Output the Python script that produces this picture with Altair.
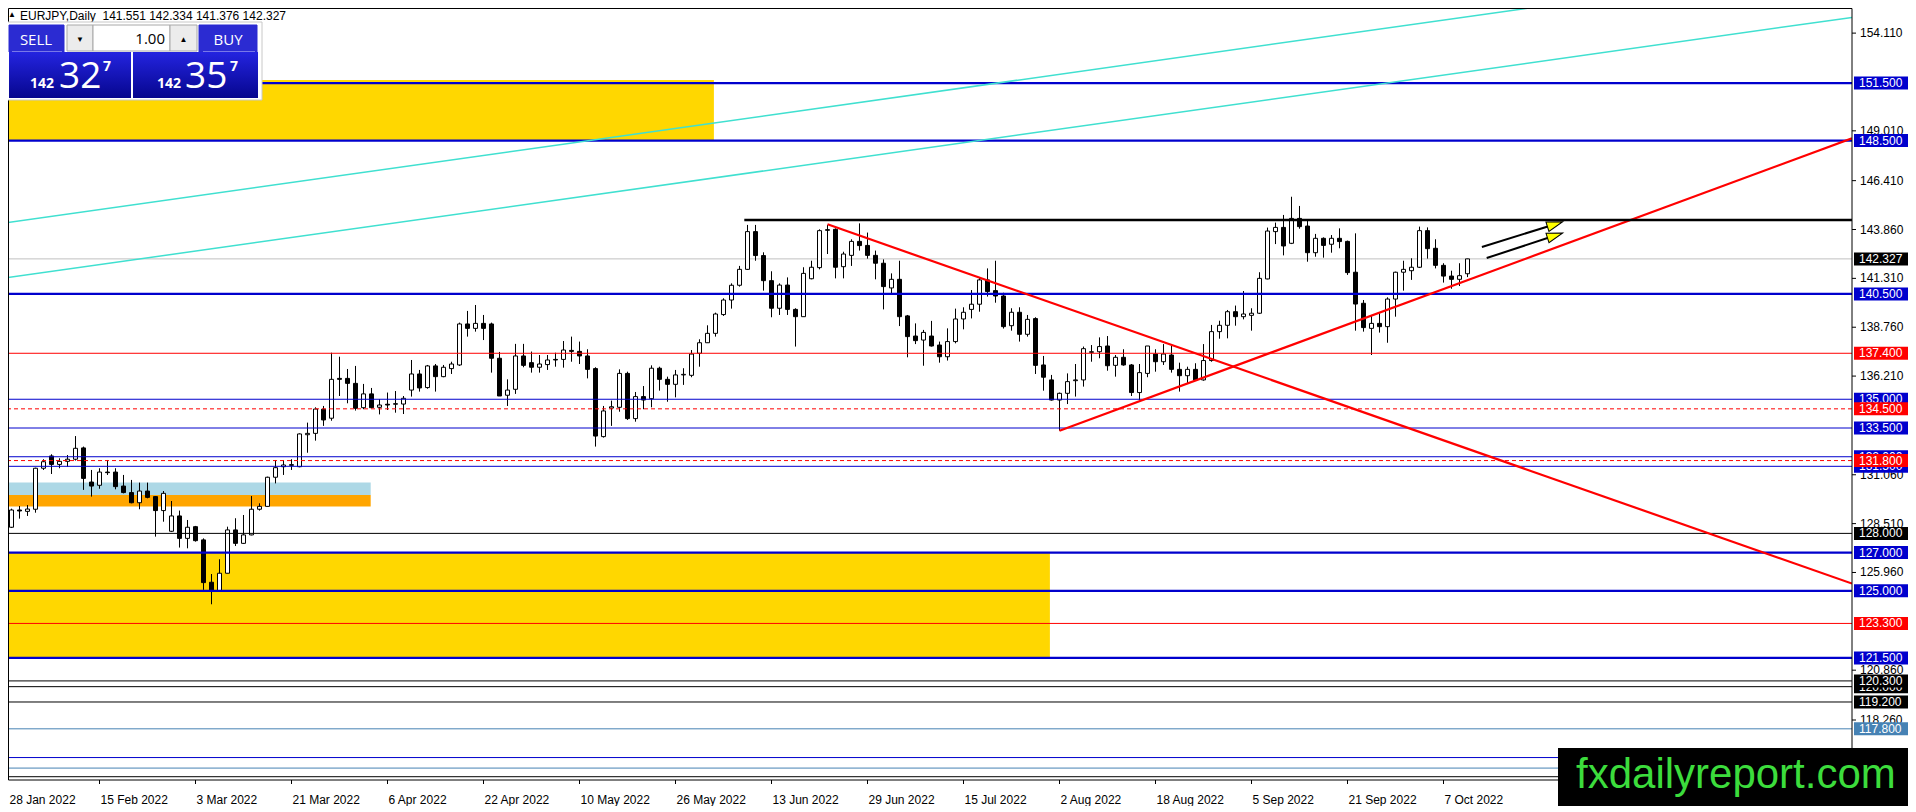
import math
import altair as alt
import pandas as pd

# ---------------- data ----------------
opens = [128.49,128.32,129.22,129.15,129.26,131.40,132.04,131.60,131.76,131.87,
132.46,130.68,130.51,131.20,131.20,130.47,130.13,129.60,130.21,129.92,
129.19,128.11,128.91,127.74,128.35,127.66,125.45,125.01,125.92,128.18,
127.48,127.92,129.26,129.41,130.93,131.48,131.55,131.48,133.15,133.22,
134.48,134.01,136.09,136.09,135.83,134.56,135.28,134.58,134.74,134.74,
134.75,135.48,136.32,135.61,136.74,136.18,136.60,136.79,138.93,138.70,
138.96,138.93,137.14,135.21,135.52,137.26,136.91,136.67,136.81,137.08,
137.08,137.55,137.50,137.26,136.60,133.05,134.54,134.58,136.35,133.99,
135.14,135.03,136.62,136.04,135.78,136.27,136.25,137.40,137.95,138.44,
139.42,140.18,140.95,141.78,143.75,142.50,141.19,139.75,140.96,139.69,
139.31,141.29,141.87,143.85,143.87,141.92,142.51,143.24,143.03,142.51,
142.10,140.81,141.26,139.35,138.30,138.09,138.30,137.83,137.22,138.01,
139.19,139.69,139.96,141.23,140.67,140.39,138.84,139.54,138.39,139.21,
136.79,136.01,134.96,135.31,135.97,136.01,137.45,137.48,137.78,136.77,
137.19,136.79,135.35,136.35,137.36,136.96,137.31,136.56,136.23,136.56,
136.01,137.02,138.53,138.86,139.57,139.31,139.38,139.49,141.28,143.75,
143.97,143.14,144.44,144.04,142.65,143.40,143.09,143.40,143.24,141.63,
140.01,138.70,138.96,138.79,140.23,141.63,141.71,141.89,143.80,142.88,
141.99,141.43,141.26,141.551]

highs = [128.70,129.29,129.43,129.48,131.43,131.87,132.13,131.92,132.09,133.08,
132.53,131.31,131.40,131.83,131.40,131.05,130.79,130.65,130.65,129.95,
130.21,129.69,129.19,128.70,128.39,127.74,125.88,126.65,128.35,128.79,
128.96,129.95,129.57,130.96,131.83,131.83,131.87,133.22,133.78,134.58,
134.65,137.43,137.22,136.58,136.74,135.80,135.59,135.00,135.35,135.43,
135.17,137.05,136.53,136.79,136.84,136.79,136.96,139.00,139.61,139.92,
139.40,139.00,137.47,136.04,137.89,137.89,137.49,137.31,137.31,137.43,
138.04,138.27,138.01,137.61,136.67,134.65,134.93,136.56,136.44,135.38,
135.69,136.77,136.70,136.18,136.53,136.62,137.57,138.13,138.86,139.52,
140.27,141.05,141.96,144.10,144.10,142.67,141.68,141.05,141.36,139.75,
141.89,142.23,143.87,144.10,143.92,142.70,143.35,144.18,143.70,142.76,
142.30,141.57,142.23,139.40,138.96,138.62,139.09,138.01,138.70,139.73,
139.80,140.70,141.36,141.83,142.23,140.56,139.75,139.80,139.40,139.28,
137.26,136.27,135.35,136.35,136.84,137.75,137.83,138.23,138.30,137.31,
137.61,136.84,136.84,137.78,137.61,137.88,137.78,136.91,136.70,136.88,
137.88,138.88,139.10,139.66,139.89,140.65,139.75,141.63,143.96,144.22,
144.62,145.57,145.09,144.32,143.63,143.45,143.57,143.92,143.28,143.66,
140.18,139.40,139.49,140.32,141.66,142.23,142.36,144.01,143.97,143.35,
142.10,141.71,142.10,142.334]

lows = [128.18,128.28,128.77,128.91,129.08,131.31,131.10,131.40,131.48,131.80,
130.27,129.92,130.33,131.05,130.30,130.09,129.57,129.26,129.83,127.83,
128.61,128.07,127.26,127.22,127.57,125.05,124.30,125.01,125.92,127.34,
127.45,127.90,129.19,129.40,130.61,131.05,131.31,131.45,132.21,132.84,
133.61,133.88,135.17,134.79,134.41,134.48,134.53,134.21,134.44,134.30,
134.23,135.14,135.40,135.55,135.40,136.15,136.32,136.74,138.27,138.53,
138.09,136.39,135.17,134.65,135.28,136.67,136.39,136.39,136.53,136.70,
136.65,136.96,136.84,136.09,132.53,133.00,133.61,134.35,133.92,133.83,
134.48,134.58,135.45,134.87,135.10,135.75,136.15,136.70,137.95,138.27,
139.35,139.73,140.88,141.75,142.23,140.67,139.28,139.40,139.40,137.75,
139.31,141.26,141.78,142.58,141.31,141.31,141.96,142.76,142.34,141.26,
139.69,140.49,138.82,137.19,137.88,136.75,137.75,136.91,137.02,137.92,
138.65,139.22,139.57,140.36,140.04,138.69,138.58,138.01,138.27,136.32,
135.45,134.93,133.36,134.75,135.14,135.66,136.96,137.14,136.49,136.18,
136.75,135.17,134.96,136.15,136.44,136.79,136.39,135.40,135.83,135.97,
135.97,136.96,138.16,138.18,138.84,139.17,138.58,139.45,141.26,143.10,
142.51,143.10,143.90,142.18,142.44,142.39,142.65,142.88,141.49,138.58,
138.53,137.31,138.48,137.95,139.31,140.67,141.23,141.85,142.34,141.83,
141.09,140.77,140.91,141.376]

closes = [128.26,129.22,129.17,129.27,131.40,131.74,131.60,131.76,131.87,132.44,
130.87,130.47,131.20,131.17,130.44,130.13,129.60,130.21,129.88,129.19,
130.09,128.91,127.74,128.32,127.62,125.43,125.01,125.92,128.18,127.48,
127.92,129.26,129.41,130.93,131.43,131.57,131.59,133.19,133.22,134.49,
133.92,136.04,136.04,135.83,134.53,135.28,134.56,134.70,134.70,134.77,
135.05,136.32,135.59,136.74,136.18,136.67,136.84,138.93,138.70,138.96,
138.70,137.14,135.17,135.48,137.26,136.77,136.67,136.84,137.05,137.05,
137.57,137.50,137.26,136.56,133.08,134.39,134.61,136.35,133.99,135.14,
134.96,136.62,136.04,135.78,136.27,136.30,137.36,137.95,138.44,139.45,
140.18,140.95,141.78,143.75,142.50,141.19,139.75,140.96,139.69,139.31,
141.57,141.89,143.80,143.82,141.89,142.58,143.24,143.02,142.51,142.10,
140.88,141.26,139.31,138.27,138.06,138.49,137.78,137.22,138.01,139.19,
139.54,139.96,141.23,140.62,140.39,138.79,139.54,138.39,139.17,136.77,
136.15,134.96,135.31,135.92,136.01,137.64,137.48,137.75,136.75,137.19,
136.79,135.35,136.39,137.78,136.96,137.36,136.56,136.23,136.56,136.01,
137.02,138.53,138.86,139.57,139.31,139.45,139.49,141.31,143.78,143.97,
143.00,144.44,144.01,142.65,143.40,143.03,143.40,143.23,141.61,139.97,
138.74,138.96,138.79,140.23,141.63,141.78,141.89,143.80,142.86,141.99,
141.43,141.26,141.45,142.327]

date_labels = ["28 Jan 2022", "15 Feb 2022", "3 Mar 2022", "21 Mar 2022", "6 Apr 2022",
               "22 Apr 2022", "10 May 2022", "26 May 2022", "13 Jun 2022", "29 Jun 2022",
               "15 Jul 2022", "2 Aug 2022", "18 Aug 2022", "5 Sep 2022", "21 Sep 2022",
               "7 Oct 2022"]
date_label_bars = [0, 12, 24, 36, 48, 60, 72, 84, 96, 108, 120, 132, 144, 156, 168, 180]

BLUE, RED, BLACK, STEEL = "#0000CD", "#FF0000", "#000000", "#4682B4"
level_prices = [151.5, 148.5, 140.5, 137.4, 135.0, 134.5, 133.5, 132.0, 131.8, 131.5,
                128.0, 127.0, 125.0, 123.3, 121.5, 120.3, 120.0, 119.2, 117.8, 116.3,
                115.75, 115.3]
level_colors = [BLUE, BLUE, BLUE, RED, BLUE, RED, BLUE, BLUE, RED, BLUE,
                BLACK, BLUE, BLUE, RED, BLUE, BLACK, BLACK, BLACK, STEEL, BLUE,
                STEEL, BLACK]
level_widths = [2.2, 2.2, 2.2, 1, 1, 1, 1, 1, 1, 1,
                1, 2.2, 2.2, 1, 2.2, 1, 1, 1, 1, 1,
                1, 1]
level_dashed = [False, False, False, False, False, True, False, False, True, False,
                False, False, False, False, False, False, False, False, False, False,
                False, False]

bid_price = 142.327
header_text = "EURJPY,Daily\u00a0 141.551 142.334 141.376 142.327"

tag_prices = [151.5, 148.5, 142.327, 140.5, 137.4, 135.0, 133.5, 132.0, 131.5, 134.5,
              131.8, 128.0, 127.0, 125.0, 123.3, 121.5, 120.0, 120.3, 119.2, 117.8]
tag_colors = [BLUE, BLUE, BLACK, BLUE, RED, BLUE, BLUE, BLUE, BLUE, RED,
              RED, BLACK, BLUE, BLUE, RED, BLUE, BLACK, BLACK, BLACK, STEEL]

# price-scale labels that are not hidden behind a price tag
tick_prices = [154.11, 149.01, 146.41, 143.86, 141.31, 138.76, 136.21,
               131.06, 128.51, 125.96, 120.86, 118.26]

zone_x1 = [-1.0, -1.0, -1.0, -1.0]
zone_x2 = [88.8, 130.8, 45.9, 45.9]
zone_p1 = [148.5, 121.5, 130.0, 129.4]
zone_p2 = [151.66, 127.0, 130.65, 130.0]
zone_colors = ["#FFD700", "#FFD700", "#ADD8E6", "#FFA500"]

trend_x1 = [-0.19, -0.19, 103.0, 132.0, 92.6]
trend_p1 = [144.18, 141.31, 144.13, 133.36, 144.36]
trend_x2 = [196.0, 231.06, 231.06, 231.06, 231.06]
trend_p2 = [155.73, 154.93, 125.38, 148.62, 144.36]
trend_colors = ["#40E0D0", "#40E0D0", "#FF0000", "#FF0000", "#000000"]
trend_widths = [1.5, 1.5, 2.2, 2.2, 2.5]

arrow_x1 = [184.8, 185.4]
arrow_p1 = [142.95, 142.37]
arrow_x2 = [194.9, 194.9]
arrow_p2 = [144.26, 143.68]

assert len(opens) == len(highs) == len(lows) == len(closes) == 184

# ---------------- layout ----------------
W, H = 1850, 778
XMIN, XMAX = -0.1875, 231.0625
YMIN, YMAX = 115.1285, 155.734
OX, OY = 2, 2                      # screen position of the plot's top-left corner
VIS = 6.5                          # first plot pixel that the page shows (8px margin)
PXX = W / (XMAX - XMIN)
PXY = H / (YMAX - YMIN)
FONT = "Liberation Sans"

xs = alt.Scale(domain=[XMIN, XMAX], nice=False, zero=False)
ys = alt.Scale(domain=[YMIN, YMAX], nice=False, zero=False)


def X(f):
    return alt.X(f"{f}:Q", scale=xs, axis=None)


def Y(f):
    return alt.Y(f"{f}:Q", scale=ys, axis=None)


def PX(f):
    return alt.X(f"{f}:Q", scale=None, axis=None)


def PY(f):
    return alt.Y(f"{f}:Q", scale=None, axis=None)


layers = []

# zones (background rectangles)
zones = pd.DataFrame({"x1": zone_x1, "x2": zone_x2, "p1": zone_p1, "p2": zone_p2, "col": zone_colors})
layers.append(alt.Chart(zones).mark_rect(clip=True).encode(
    x=X("x1"), x2="x2", y=Y("p1"), y2="p2", fill=alt.Fill("col:N", scale=None)))

# bid line
layers.append(alt.Chart(pd.DataFrame({"p": [bid_price]})).mark_rule(
    color="#C0C0C0", strokeWidth=1, clip=True).encode(y=Y("p")))

# candles
cd = pd.DataFrame({"k": list(range(len(opens))), "o": opens, "h": highs, "l": lows, "c": closes})
cd["fillc"] = ["black" if c < o else "white" for o, c in zip(cd.o, cd.c)]
cd["x1"] = cd.k - 0.25
cd["x2"] = cd.k + 0.25
layers.append(alt.Chart(cd).mark_rule(color="black", strokeWidth=1, clip=True).encode(
    x=X("k"), y=Y("l"), y2="h"))
layers.append(alt.Chart(cd).mark_rect(stroke="black", strokeWidth=1, clip=True).encode(
    x=X("x1"), x2="x2", y=Y("o"), y2="c", fill=alt.Fill("fillc:N", scale=None)))

# horizontal levels
lv = pd.DataFrame({"p": level_prices, "col": level_colors, "w": level_widths, "dash": level_dashed})
layers.append(alt.Chart(lv[~lv.dash]).mark_rule(clip=True).encode(
    y=Y("p"), color=alt.Color("col:N", scale=None), strokeWidth=alt.StrokeWidth("w:Q", scale=None)))
layers.append(alt.Chart(lv[lv.dash]).mark_rule(clip=True, strokeDash=[4, 3]).encode(
    y=Y("p"), color=alt.Color("col:N", scale=None), strokeWidth=alt.StrokeWidth("w:Q", scale=None)))

# trend lines
tr = pd.DataFrame({"x1": trend_x1, "p1": trend_p1, "x2": trend_x2, "p2": trend_p2,
                   "col": trend_colors, "w": trend_widths})
layers.append(alt.Chart(tr).mark_rule(clip=True).encode(
    x=X("x1"), x2="x2", y=Y("p1"), y2="p2",
    color=alt.Color("col:N", scale=None), strokeWidth=alt.StrokeWidth("w:Q", scale=None)))

# arrows
ar = pd.DataFrame({"x1": arrow_x1, "p1": arrow_p1, "x2": arrow_x2, "p2": arrow_p2})
dxp = (ar.x2 - ar.x1) * PXX
dyp = (ar.p2 - ar.p1) * PXY
lenp = (dxp ** 2 + dyp ** 2) ** 0.5
frac = 1 - 8.0 / lenp
ar["hx"] = ar.x1 + frac * (ar.x2 - ar.x1)
ar["hp"] = ar.p1 + frac * (ar.p2 - ar.p1)
ang = (360 - math.degrees(math.atan2(float(dyp.mean()), float(dxp.mean())))) % 360
layers.append(alt.Chart(ar).mark_rule(color="black", strokeWidth=2, clip=True).encode(
    x=X("x1"), x2="hx", y=Y("p1"), y2="hp"))
layers.append(alt.Chart(ar).mark_point(
    shape="M1,0L-1,-0.62L-1,0.62Z", filled=True, fill="#FFFF00", stroke="black",
    strokeWidth=1, size=256, angle=ang, opacity=1).encode(x=X("hx"), y=Y("hp")))

# frame, drawn along the first visible pixels
layers.append(alt.Chart(pd.DataFrame({"a": [0]})).mark_rect(
    fill=None, stroke="black", strokeWidth=1).encode(
    x=alt.value(VIS), x2=alt.value(W), y=alt.value(VIS), y2=alt.value(H)))

# price scale ticks and labels
tk = pd.DataFrame({"p": tick_prices})
tk["txt"] = tk.p.map(lambda v: f"{v:.3f}")
layers.append(alt.Chart(tk).mark_rule(color="black", strokeWidth=1).encode(
    x=alt.value(1852 - OX), x2=alt.value(1856 - OX), y=Y("p")))
layers.append(alt.Chart(tk).mark_text(align="left", baseline="middle", font=FONT,
                                      fontSize=12, color="black").encode(
    x=alt.value(1860 - OX), y=Y("p"), text="txt:N"))

# coloured price tags, drawn one by one so that later ones cover earlier ones
for p, col in zip(tag_prices, tag_colors):
    d = pd.DataFrame({"p": [p], "top": [p + 6.5 / PXY], "bot": [p - 6.5 / PXY], "txt": [f"{p:.3f}"]})
    layers.append(alt.Chart(d).mark_rect(fill=col).encode(
        x=alt.value(1854 - OX), x2=alt.value(1910 - OX), y=Y("top"), y2="bot"))
    layers.append(alt.Chart(d).mark_text(align="left", baseline="middle", font=FONT,
                                         fontSize=12, color="white").encode(
        x=alt.value(1859 - OX), y=Y("p"), text="txt:N"))

# time axis
dl = pd.DataFrame({"k": date_label_bars, "txt": date_labels})
layers.append(alt.Chart(dl).mark_rule(color="black", strokeWidth=1).encode(
    x=X("k"), y=alt.value(H), y2=alt.value(H + 4)))
layers.append(alt.Chart(dl.iloc[:1]).mark_text(align="left", baseline="middle", font=FONT,
                                               fontSize=12, color="black", dx=6).encode(
    x=X("k"), y=alt.value(800 - OY), text="txt:N"))
layers.append(alt.Chart(dl.iloc[1:]).mark_text(align="left", baseline="middle", font=FONT,
                                               fontSize=12, color="black", dx=1).encode(
    x=X("k"), y=alt.value(800 - OY), text="txt:N"))

# header
layers.append(alt.Chart(pd.DataFrame({"t": ["\u25b2"]})).mark_text(
    align="center", baseline="middle", fontSize=8, color="black").encode(
    x=alt.value(12 - OX), y=alt.value(15 - OY), text="t:N"))
layers.append(alt.Chart(pd.DataFrame({"t": [header_text]})).mark_text(
    align="left", baseline="alphabetic", font=FONT, fontSize=12, color="black").encode(
    x=alt.value(20 - OX), y=alt.value(19.5 - OY), text="t:N"))

# one-click trading panel (screen coordinates of the reference)
pr = pd.DataFrame({
    "x1": [3, 9, 67, 93, 170, 199],
    "y1": [22, 25, 25, 25, 25, 25],
    "x2": [262, 64, 93, 170, 197, 257],
    "y2": [100, 52, 51, 51, 51, 52],
    "f": ["#ffffff", "#2b2bd2", "#ececec", "#ffffff", "#ececec", "#2b2bd2"],
    "s": ["#c8c8c8", "#2b2bd2", "#a8a8a8", "#a8a8a8", "#a8a8a8", "#2b2bd2"],
})
for c in ["x1", "x2"]:
    pr[c] = pr[c] - OX
for c in ["y1", "y2"]:
    pr[c] = pr[c] - OY
layers.append(alt.Chart(pr).mark_rect(strokeWidth=1).encode(
    x=PX("x1"), x2="x2", y=PY("y1"), y2="y2",
    fill=alt.Fill("f:N", scale=None), stroke=alt.Stroke("s:N", scale=None)))
pb = pd.DataFrame({"x1": [9 - OX, 133 - OX], "x2": [131 - OX, 258 - OX],
                   "y1": [52 - OY, 52 - OY], "y2": [98 - OY, 98 - OY]})
grad = {"gradient": "linear", "x1": 0, "y1": 0, "x2": 0, "y2": 1,
        "stops": [{"offset": 0, "color": "#2424e0"}, {"offset": 1, "color": "#06068e"}]}
layers.append(alt.Chart(pb).mark_rect(fill=grad).encode(
    x=PX("x1"), x2="x2", y=PY("y1"), y2="y2"))
sep = pd.DataFrame({"x1": [12 - OX, 203 - OX], "x2": [62 - OX, 255 - OX], "y": [51.5 - OY, 51.5 - OY]})
layers.append(alt.Chart(sep).mark_rule(color="#7878e8", strokeWidth=1).encode(
    x=PX("x1"), x2="x2", y=PY("y")))

PFONT = "Open Sans"
ptc = pd.DataFrame({"t": ["SELL", "BUY", "\u25bc", "\u25b2"],
                    "x": [36 - OX, 228 - OX, 80 - OX, 183.5 - OX],
                    "y": [45 - OY, 45 - OY, 41.5 - OY, 41.5 - OY],
                    "fs": [15, 15, 8, 8],
                    "col": ["white", "white", "black", "black"]})
layers.append(alt.Chart(ptc).mark_text(align="center", baseline="alphabetic", font=PFONT).encode(
    x=PX("x"), y=PY("y"), text="t:N", size=alt.Size("fs:Q", scale=None),
    color=alt.Color("col:N", scale=None)))
layers.append(alt.Chart(pd.DataFrame({"t": ["1.00"]})).mark_text(
    align="right", baseline="alphabetic", font=PFONT, fontSize=15, color="black").encode(
    x=alt.value(165 - OX), y=alt.value(43.5 - OY), text="t:N"))
ptb = pd.DataFrame({"t": ["142", "7", "142", "7"],
                    "x": [30 - OX, 103 - OX, 157 - OX, 230 - OX],
                    "y": [88 - OY, 70.5 - OY, 88 - OY, 70.5 - OY],
                    "fs": [14, 14, 14, 14]})
layers.append(alt.Chart(ptb).mark_text(align="left", baseline="alphabetic", font=PFONT,
                                       fontWeight="bold", color="white").encode(
    x=PX("x"), y=PY("y"), text="t:N", size=alt.Size("fs:Q", scale=None)))
ptn = pd.DataFrame({"t": ["32", "35"], "x": [59 - OX, 185 - OX], "y": [88 - OY, 88 - OY]})
layers.append(alt.Chart(ptn).mark_text(align="left", baseline="alphabetic", font=PFONT,
                                       fontSize=37, color="white").encode(
    x=PX("x"), y=PY("y"), text="t:N"))

# watermark
layers.append(alt.Chart(pd.DataFrame({"a": [0]})).mark_rect(fill="black").encode(
    x=alt.value(1558 - OX), x2=alt.value(1920 - OX), y=alt.value(748 - OY), y2=alt.value(820 - OY)))
layers.append(alt.Chart(pd.DataFrame({"t": ["fxdailyreport.com"]})).mark_text(
    align="left", baseline="alphabetic", font=FONT, fontSize=42, color="#3CDC3C").encode(
    x=alt.value(1576 - OX), y=alt.value(788 - OY), text="t:N"))

chart = alt.layer(*layers).resolve_scale(x="independent", y="independent").properties(
    width=W, height=H,
    autosize=alt.AutoSizeParams(type="none"),
    padding={"left": -6, "top": -6, "right": 56, "bottom": 26},
    background="white",
).configure_view(stroke=None)

chart.save("out.html", embed_options={"renderer": "svg", "actions": False})
